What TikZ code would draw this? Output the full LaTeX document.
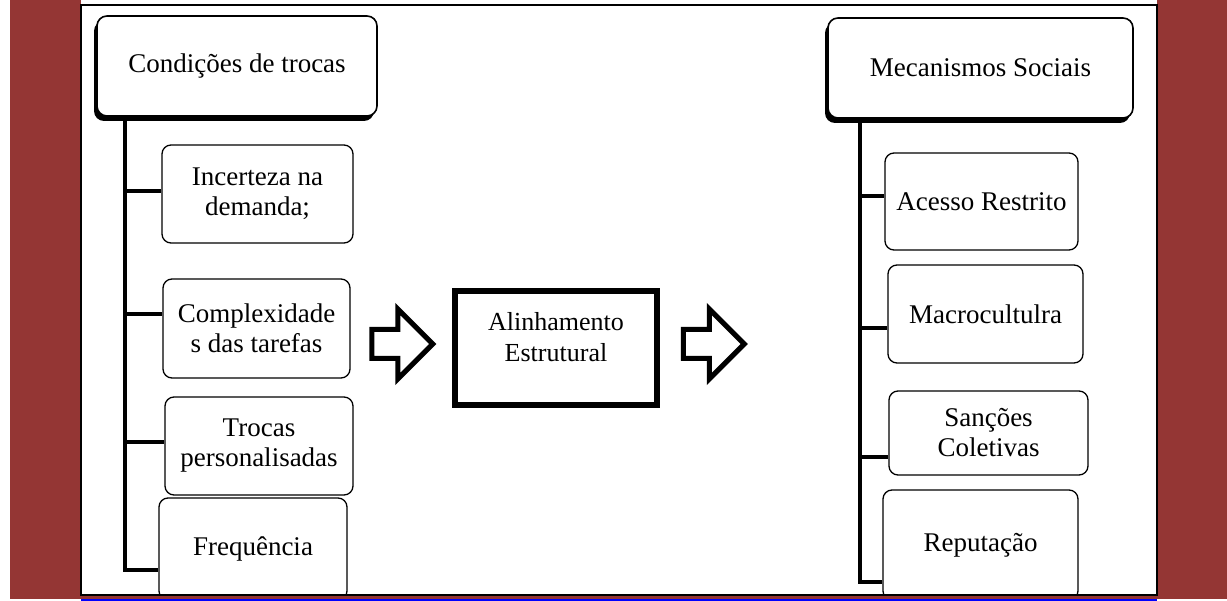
\documentclass[tikz,border=0pt]{standalone}
\usepackage{fontspec}
\setmainfont{Liberation Serif}
\usetikzlibrary{calc,positioning,shapes.arrows,shadows}
\definecolor{framebrown}{RGB}{148,54,52}
\definecolor{lineblue}{RGB}{0,0,255}

\begin{document}
\begin{tikzpicture}[x=1pt,y=-1pt,
	head/.style = {draw, fill=white, rounded corners=10pt, line width=1.6pt, minimum width=280pt, minimum height=100pt, font=\fontsize{27}{30}\selectfont, general shadow={fill=black, shadow xshift=-3pt, shadow yshift=-5pt}},
	leaf/.style = {draw, fill=white, rounded corners=9pt, line width=1.3pt, align=center, minimum width=190pt, minimum height=98pt, inner sep=2pt, font=\fontsize{27}{30}\selectfont},
	mid/.style = {draw, line width=6pt, minimum width=202pt, minimum height=114pt},
	fat/.style = {single arrow, draw, fill=white, line width=5pt, inner xsep=0pt, inner ysep=12pt, minimum height=61pt, single arrow head extend=20.5pt},
	stem/.style = {line width=4pt},
	twig/.style = {line width=4.5pt}]
	\useasboundingbox (0,0) rectangle (1227,601);
	\fill[white] (0,0) rectangle (1227,601);
	\fill[framebrown] (10,0) rectangle (81,599);
	\fill[framebrown] (1157,0) rectangle (1227,599);

	\node[head] (cond) at (237,66) {Condições de trocas};
	\node[leaf, minimum width=191pt] (inc) at (257.5,194) {Incerteza na\\demanda;};
	\node[leaf, minimum width=187pt, minimum height=99pt] (cplx) at (256.5,328.5) {Complexidade\\s das tarefas};
	\node[leaf, minimum width=188pt] (troc) at (259,446) {Trocas\\personalisadas};
	\node[leaf, minimum width=188pt, minimum height=102pt] (freq) at (253,549) {Frequência};

	\coordinate (l1) at (125,191);
	\coordinate (l2) at (125,314);
	\coordinate (l3) at (125,442);
	\coordinate (l4) at (125,570);
	\draw[stem] (cond.south -| l4) -- (l4) -- (l4 -| freq.west);
	\draw[twig] (l1) -- (l1 -| inc.west);
	\draw[twig] (l2) -- (l2 -| cplx.west);
	\draw[twig] (l3) -- (l3 -| troc.west);

	\node[mid] (align) at (556,348) {};
	\node[align=center, font=\fontsize{26}{31}\selectfont] (alignTxt) at (556,337) {Alinhamento\\Estrutural};
	\node[fat] (arrL) at (395,344) {};
	\node[fat] (arrR) at (706.5,344) {};

	\node[head, minimum width=305pt] (mec) at (980.5,68) {Mecanismos Sociais};
	\node[leaf, minimum width=193pt, minimum height=97pt] (aces) at (981.5,201.5) {Acesso Restrito};
	\node[leaf, minimum width=195pt] (macro) at (985.5,314) {Macrocultulra};
	\node[leaf, minimum width=199pt, minimum height=84pt] (sanc) at (988.5,433) {Sanções\\Coletivas};
	\node[leaf, minimum width=195pt, minimum height=110pt] (rep) at (980.5,545) {Reputação};

	\coordinate (r1) at (860,196);
	\coordinate (r2) at (860,328);
	\coordinate (r3) at (860,457);
	\coordinate (r4) at (860,582);
	\draw[stem] (mec.south -| r4) -- (r4) -- (r4 -| rep.west);
	\draw[twig] (r1) -- (r1 -| aces.west);
	\draw[twig] (r2) -- (r2 -| macro.west);
	\draw[twig] (r3) -- (r3 -| sanc.west);

	\fill[framebrown] (10,595) rectangle (1227,599);
	\fill[lineblue] (81,599) rectangle (1157,601);
	\draw[line width=2pt] (81,5) rectangle (1157,595);
\end{tikzpicture}
\end{document}
